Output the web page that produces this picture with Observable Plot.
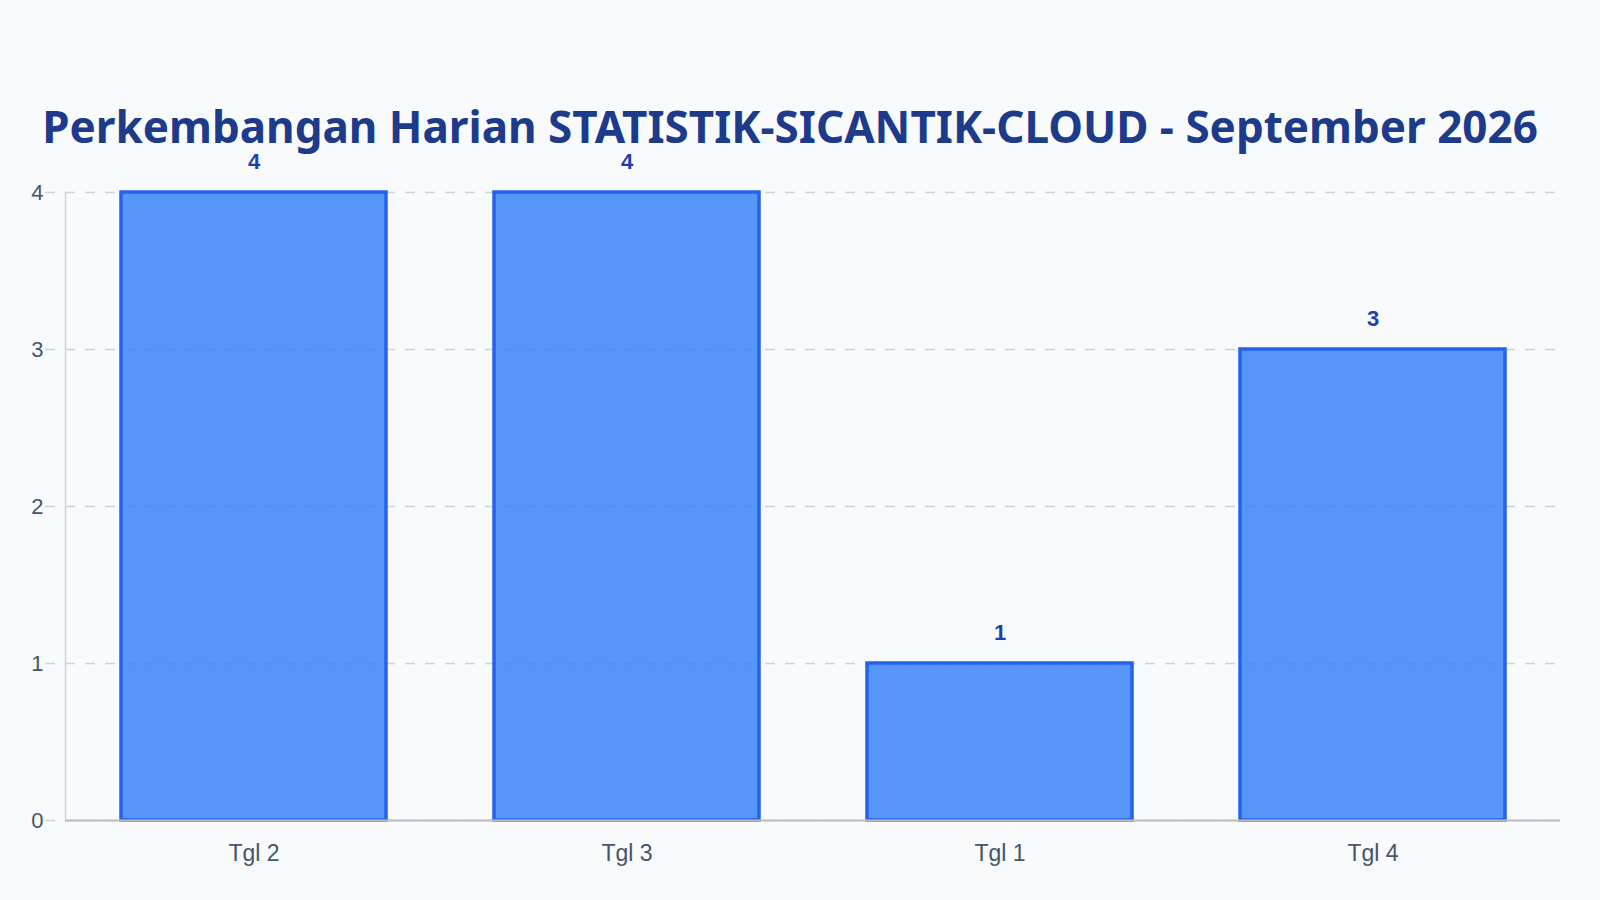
<!DOCTYPE html>
<html>
<head>
<meta charset="utf-8">
<script src="https://cdn.jsdelivr.net/npm/d3@7"></script>
<script src="https://cdn.jsdelivr.net/npm/@observablehq/plot@0.6"></script>
<style>
  html, body { margin: 0; padding: 0; background: #f8fafc; }
  #title {
    box-sizing: border-box;
    height: 140px;
    padding-top: 112px;
    padding-right: 20px;
    font: bold 44px/28px "Noto Sans", sans-serif;
    color: #1e3a8a;
    text-align: center;
    white-space: nowrap;
  }
  #chart svg { display: block; }
</style>
</head>
<body>
<div id="title">Perkembangan Harian STATISTIK-SICANTIK-CLOUD - September 2026</div>
<div id="chart"></div>
<script>
const categories = ["Tgl 2", "Tgl 3", "Tgl 1", "Tgl 4"];
const values = [4, 4, 1, 3];
const yTicks = [0, 1, 2, 3, 4];

const data = categories.map((c, i) => ({day: c, count: values[i]}));

const chart = Plot.plot({
  width: 1600,
  height: 760,
  marginTop: 52,
  marginBottom: 80,
  marginLeft: 65,
  marginRight: 40,
  style: {background: "#f8fafc", fontFamily: "'Liberation Sans', Arial, sans-serif", color: "#475569"},
  x: {domain: categories, paddingInner: 0.29, paddingOuter: 0.145, label: null},
  y: {domain: [0, 4], label: null},
  marks: [
    Plot.ruleY(yTicks, {stroke: "#cbd5e1", strokeWidth: 1.5, strokeDasharray: "10,10", insetLeft: -20}),
    Plot.frame({anchor: "left", stroke: "#cbd5e1", strokeWidth: 1.5}),
    Plot.barY(data, {x: "day", y: "count", fill: "#3b82f6", fillOpacity: 0.85, stroke: "#2563eb", strokeWidth: 3.5}),
    Plot.ruleY([0], {stroke: "#bdbdbd", strokeWidth: 2}),
    Plot.text(data, {x: "day", y: "count", text: d => String(d.count), dy: -31, lineAnchor: "middle", fill: "#1e40af", fontWeight: "bold", fontSize: 22, fontFamily: "'Liberation Sans', Arial, sans-serif"}),
    Plot.axisY({ticks: yTicks, tickFormat: "d", tickSize: 0, tickPadding: 22, fontSize: 22, fill: "#475569", label: null}),
    Plot.axisX({tickSize: 0, tickPadding: 24, fontSize: 23, fill: "#475569", label: null})
  ]
});
document.getElementById("chart").appendChild(chart);
</script>
</body>
</html>
